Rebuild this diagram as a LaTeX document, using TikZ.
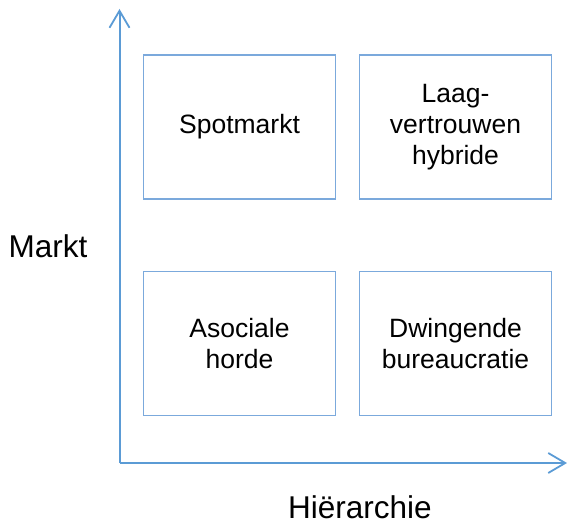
\documentclass[tikz,border=0pt]{standalone}
\usepackage{fontspec}
\setmainfont{Liberation Sans}
\usetikzlibrary{arrows.meta}
\definecolor{axisblue}{HTML}{5B9BD5}
\definecolor{boxblue}{HTML}{7BA9DC}
\tikzset{
  quad/.style={draw=boxblue, line width=1.5pt, minimum width=192pt, minimum height=144pt,
    inner sep=0pt, align=center, font=\fontsize{26.5}{30.8}\selectfont},
  axislbl/.style={inner sep=0pt, text depth=0pt, font=\fontsize{31.5}{36}\selectfont},
  axisline/.style={draw=axisblue, line width=2pt,
    -{Straight Barb[length=17pt,width=20pt,line width=1.8pt]}}
}
\begin{document}
\begin{tikzpicture}[x=1pt,y=-1pt]
\useasboundingbox (0,0) rectangle (567,526);
\coordinate (O) at (119.5,463);
\coordinate (ytip) at (119.5,9);
\coordinate (xtip) at (567,463);
\draw[axisline] (O) -- (ytip);
\draw[axisline] (O) -- (xtip);
\node[quad] (spot) at (239.5,127) {Spotmarkt};
\node[quad] (laag) at (455.5,127) {Laag-\\vertrouwen\\hybride};
\node[quad] (aso) at (239.5,343.3) {Asociale\\horde};
\node[quad] (dwing) at (455.5,343.3) {Dwingende\\bureaucratie};
\node[axislbl, anchor=base] (markt) at (48,257.3) {Markt};
\node[axislbl, anchor=base] (hier) at (360,518) {Hiërarchie};
\end{tikzpicture}
\end{document}
